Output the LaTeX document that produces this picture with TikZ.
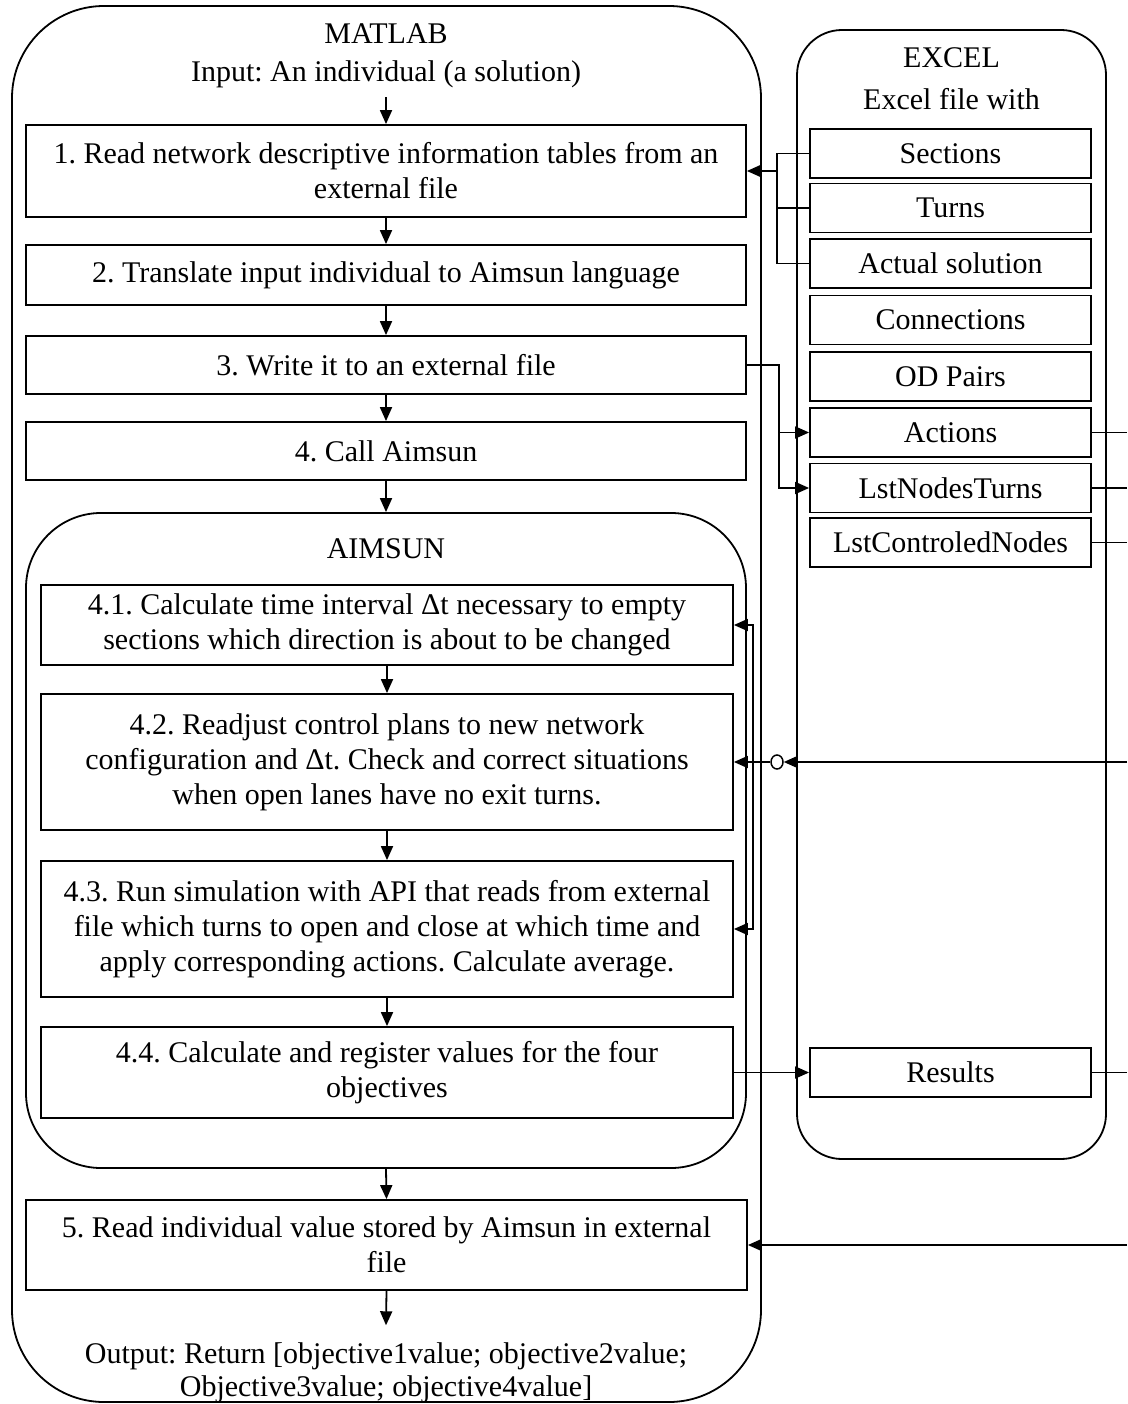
\documentclass[tikz,border=0pt]{standalone}
\usepackage{fontspec}
\setmainfont{Liberation Serif}
\usetikzlibrary{arrows.meta,shapes.geometric}
\frenchspacing
\begin{document}
\begin{tikzpicture}[x=1pt,y=-1pt,line width=1.8pt,
  font=\fontsize{30}{35}\selectfont\frenchspacing,
  >={Triangle[length=14pt,width=12pt]},
  procbox/.style={draw, align=center, inner sep=0pt, minimum width=720pt},
  aimbox/.style={draw, align=center, inner sep=0pt, minimum width=692pt},
  xbox/.style={draw, align=center, inner sep=0pt, minimum width=281pt, minimum height=49pt},
  title/.style={anchor=base, inner sep=0pt},
  container/.style={draw, inner sep=0pt}]

\useasboundingbox (0,0) rectangle (1127,1404);
\coordinate (edge) at (1127,0);

% containers
\node[container, rounded corners=92pt, minimum width=749pt, minimum height=1396pt] (matlab) at (386.5,704) {};
\node[container, rounded corners=45pt, minimum width=309pt, minimum height=1129pt] (excel) at (951.5,594.5) {};
\node[container, rounded corners=75pt, minimum width=720pt, minimum height=655pt] (aimsun) at (386,840.5) {};

% titles
\node[title] (tmatlab) at (386,44) {MATLAB};
\node[title] (input) at (386,82) {Input: An individual (a solution)};
\node[title] (texcel) at (951.5,68) {EXCEL};
\node[title] (excelfile) at (951.5,110) {Excel file with};
\node[title] (taimsun) at (386,558) {AIMSUN};
\node[title] (out1) at (386,1363) {Output: Return [objective1value; objective2value;};
\node[title] (out2) at (386,1396) {Objective3value; objective4value]};

% MATLAB steps
\node[procbox, minimum height=92pt] (b1) at (386,171) {1. Read network descriptive information tables from an\\external file};
\node[procbox, minimum height=60pt] (b2) at (386,275) {2. Translate input individual to Aimsun language};
\node[procbox, minimum height=58pt] (b3) at (386,365) {3. Write it to an external file};
\node[procbox, minimum height=58pt] (b4) at (386,451) {4. Call Aimsun};
\node[aimbox, minimum height=80pt] (b41) at (387,625) {4.1. Calculate time interval Δt necessary to empty\\sections which direction is about to be changed};
\node[aimbox, minimum height=136pt] (b42) at (387,762) {4.2. Readjust control plans to new network\\configuration and Δt. Check and correct situations\\when open lanes have no exit turns.};
\node[aimbox, minimum height=136pt] (b43) at (387,929) {4.3. Run simulation with API that reads from external\\file which turns to open and close at which time and\\apply corresponding actions. Calculate average.};
\node[aimbox, minimum height=91pt] (b44) at (387,1072.5) {4.4. Calculate and register values for the four\\objectives};
\node[procbox, minimum width=721pt, minimum height=90pt] (b5) at (386.5,1245) {5. Read individual value stored by Aimsun in external\\file};

% EXCEL sheets
\node[xbox] (sec) at (950.5,153.5) {Sections};
\node[xbox] (turns) at (950.5,208) {Turns};
\node[xbox] (actsol) at (950.5,263.5) {Actual solution};
\node[xbox] (conn) at (950.5,320) {Connections};
\node[xbox] (od) at (950.5,376.5) {OD Pairs};
\node[xbox] (actions) at (950.5,432.5) {Actions};
\node[xbox] (lnt) at (950.5,488) {LstNodesTurns};
\node[xbox] (lcn) at (950.5,542.5) {LstControledNodes};
\node[xbox] (results) at (950.5,1072.5) {Results};

% junction
\node[ellipse, draw, inner sep=0pt, minimum width=12pt, minimum height=14pt, line width=1.5pt] (junc) at (777,762) {};

% vertical flow
\draw[->] ([yshift=-8pt]input.south) -- (b1.north);
\draw[->] (b1) -- (b2);
\draw[->] (b2) -- (b3);
\draw[->] (b3) -- (b4);
\draw[->] (b4.south) -- (aimsun.north);
\draw[->] (b41) -- (b42);
\draw[->] (b42) -- (b43);
\draw[->] (b43) -- (b44);
\draw[->] (aimsun.south) -- (b5.north);
\draw[->] (b5.south) -- ([yshift=16pt]out1.north);

% excel -> step 1
\draw[->] (sec.west) -- ++(-32,0) |- (b1.east);
\draw (turns.west) -- ++(-32,0);
\draw (actsol.west) -| ([xshift=-32pt]sec.west);

% step 3 -> excel
\draw[->] (b3.east) -- ++(32,0) |- (actions.west);
\draw[->] (b3.east) -- ++(32,0) |- (lnt.west);

% outgoing lines to the right
\draw (actions.east) -- (actions.east -| edge);
\draw (lnt.east) -- (lnt.east -| edge);
\draw (lcn.east) -- (lcn.east -| edge);
\draw (results.east) -- (results.east -| edge);

% incoming to aimsun steps
\draw[->] (junc.east -| edge) -- (junc.east);
\draw[->] (junc.west) -- (b42.east);
\draw[<->] (b41.east) -- ++(19,0) |- (b43.east);

% results
\draw[->] (b44.east) -- (results.west);
\draw[->] (b5.east -| edge) -- (b5.east);
\end{tikzpicture}
\end{document}
